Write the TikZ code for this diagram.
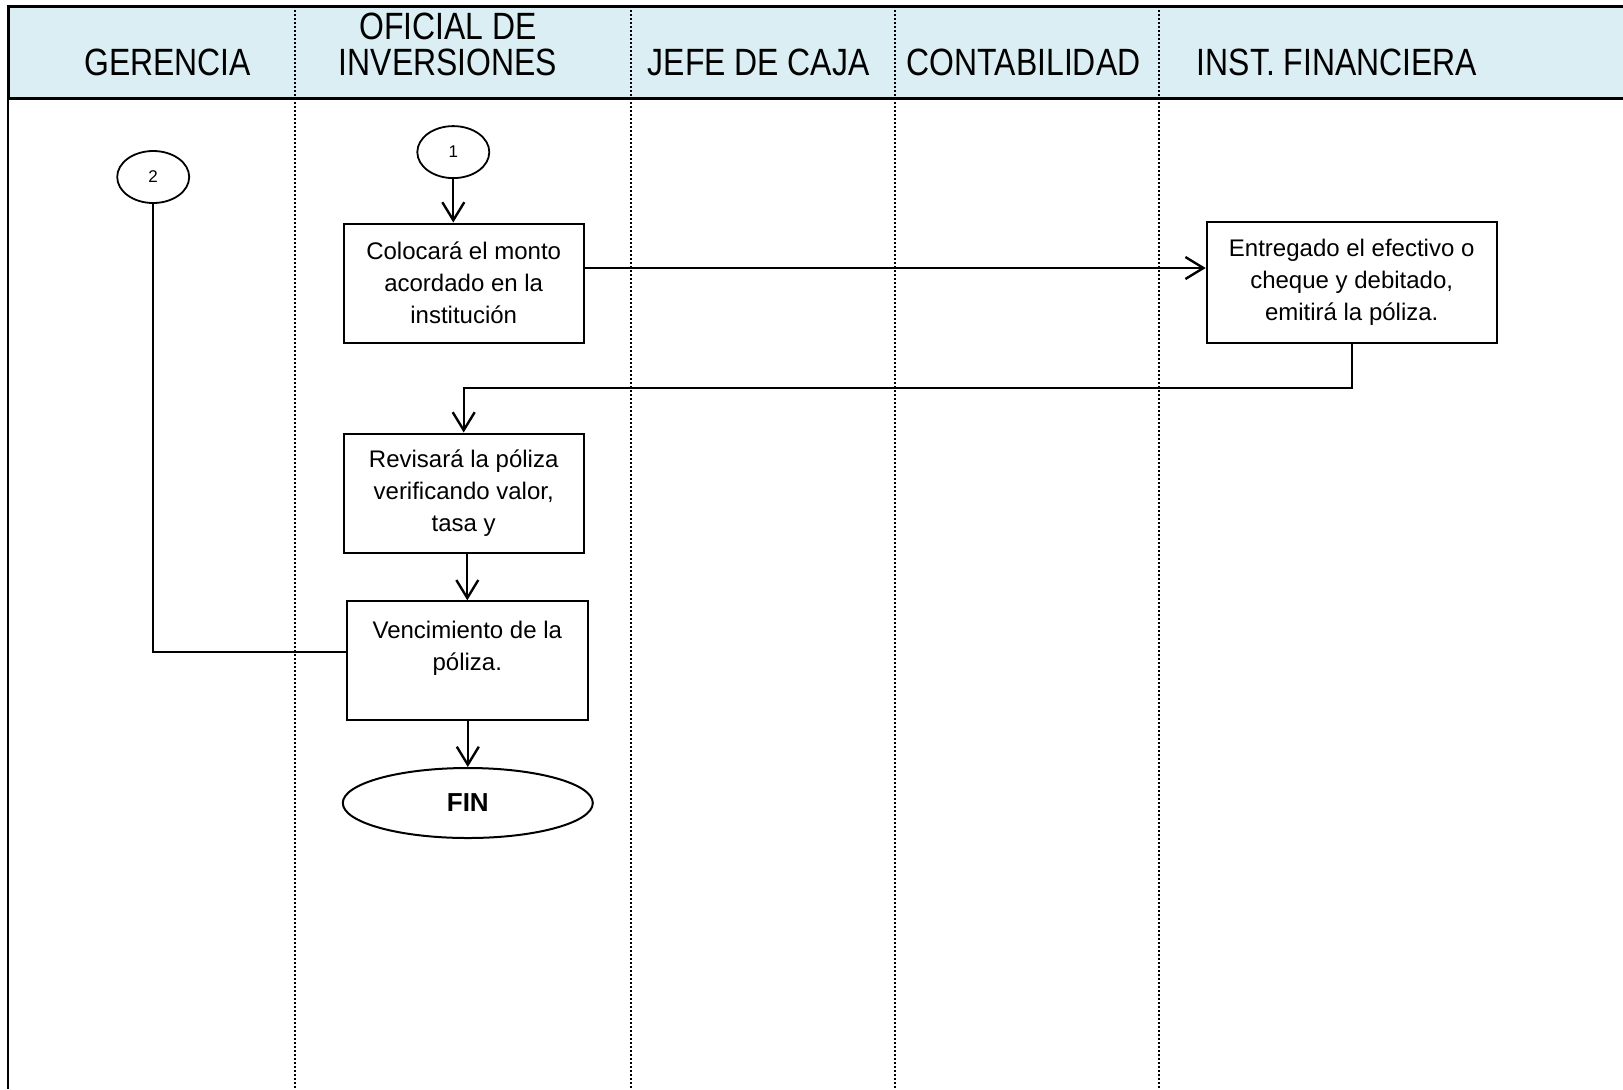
\documentclass[tikz,border=0pt]{standalone}
\usepackage{fontspec}
\setmainfont{Liberation Sans}
\newfontfamily\headfont[FakeStretch=0.84]{Liberation Sans}
\usetikzlibrary{arrows.meta,shapes.geometric,calc}
\definecolor{headfill}{HTML}{DAEEF3}

\begin{document}
\begin{tikzpicture}[x=0.5pt,y=-0.5pt,
  every node/.style={font=\fontsize{12}{16}\selectfont},
  procbox/.style={draw,line width=1pt,align=center,inner sep=2pt,minimum height=59.5pt},
  connector/.style={draw,ellipse,line width=0.9pt,minimum width=36pt,minimum height=26pt,inner sep=0pt,font=\fontsize{8.5}{10}\selectfont},
  terminal/.style={draw,ellipse,line width=1pt,minimum width=125pt,minimum height=35pt,inner sep=0pt,font=\fontsize{13}{15}\selectfont\bfseries},
  flow/.style={line width=1pt,-{Straight Barb[length=9pt,width=11pt,line width=1.2pt]}},
  link/.style={line width=1pt},
  lane/.style={line width=0.7pt,dash pattern=on 1pt off 1pt},
  headtext/.style={font=\headfont\fontsize{19}{18}\selectfont,align=center,inner sep=0pt}
]
\useasboundingbox (0,0) rectangle (1623,1089);

% header band and outer frame
\fill[headfill] (8.3,6.2) rectangle (1623,98);
\draw[line width=1pt] (8.3,98) -- (8.3,1089);
\draw[line width=1.5pt] (1623,6.2) -- (8.3,6.2) -- (8.3,98) -- (1623,98);

% lane separators
\foreach \lx in {295,631,895,1159}
  \draw[lane] (\lx,6.2) -- (\lx,1089);

% lane titles
\node[headtext] (hger) at (167.7,62) {GERENCIA};
\node[headtext] (hofi) at (448,44) {OFICIAL DE\\INVERSIONES};
\node[headtext] (hjef) at (758.7,62) {JEFE DE CAJA};
\node[headtext] (hcon) at (1023.6,62) {CONTABILIDAD};
\node[headtext] (hins) at (1337,62) {INST. FINANCIERA};

% flow elements
\node[connector] (c1) at (453.3,152.1) {1};
\node[connector] (c2) at (153.2,177) {2};
\node[procbox,minimum width=120pt] (a) at (463.7,283) {Colocará el monto\\acordado en la\\institución};
\node[procbox,minimum width=145pt,minimum height=60.5pt] (b) at (1351.7,282) {Entregado el efectivo o\\cheque y debitado,\\emitirá la póliza.};
\node[procbox,minimum width=120pt] (c) at (463.7,493) {Revisará la póliza\\verificando valor,\\tasa y};
\node[procbox,minimum width=120.5pt] (d) at (467.3,660.8) {Vencimiento de la\\póliza.\\[-6pt]\strut};
\node[terminal] (fin) at (467.8,803) {FIN};

% connectors
\draw[flow] (c1.south) -- (c1.south |- a.north);
\coordinate (ab) at ($(a.east)+(0,-15)$);
\draw[flow] (ab) -- (ab -| b.west);
\draw[flow] (b.south) -- ++(0,44) -| (c.north);
\draw[flow] (c.south -| d.north) -- (d.north);
\draw[flow] (d.south -| fin.north) -- (fin.north);
\draw[link] (c2.south) |- ($(d.west)+(0,-9)$);
\end{tikzpicture}
\end{document}
